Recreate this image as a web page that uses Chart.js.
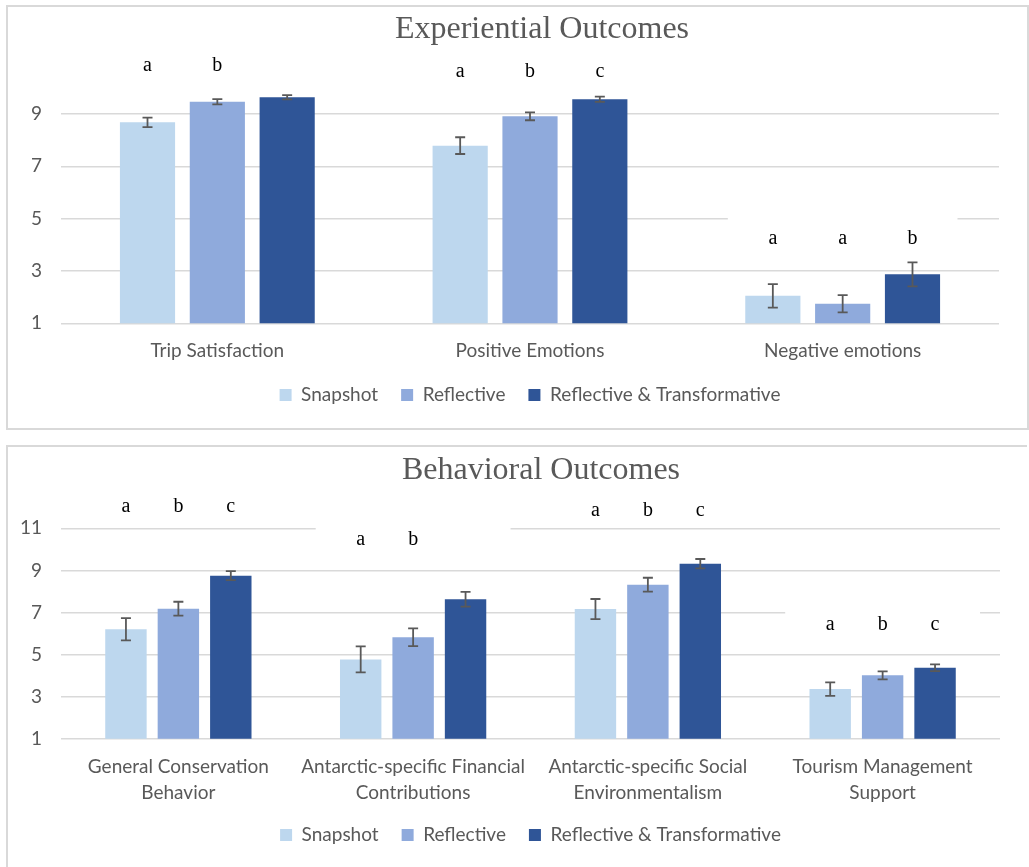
<!DOCTYPE html>
<html>
<head>
<meta charset="utf-8">
<script src="https://cdn.jsdelivr.net/npm/chart.js@4"></script>
<style>
  html, body { margin: 0; padding: 0; background: #fff; width: 1029px; height: 867px; overflow: hidden; }
  .panel { position: absolute; left: 6px; width: 1019px; height: 421px; border: 2px solid #D9D9D9; background: #fff; overflow: hidden; }
  #panelExp { top: 5px; }
  #panelBeh { top: 445px; border-right: none; border-bottom: none; }
  canvas { display: block; }
</style>
</head>
<body>
<div class="panel" id="panelExp"><canvas id="chartExp" width="1070" height="421"></canvas></div>
<div class="panel" id="panelBeh"><canvas id="chartBeh" width="1070" height="421"></canvas></div>
<script>
// ---- series shared by both panels ----
const seriesNames = ['Snapshot', 'Reflective', 'Reflective & Transformative'];
const seriesColors = ['#BDD7EE', '#8FAADC', '#2F5597'];

// ---- Experiential outcomes ----
const expCategories = ['Trip Satisfaction', 'Positive Emotions', 'Negative emotions'];
const expSnapshot = [8.68, 7.79, 2.05];
const expReflective = [9.47, 8.91, 1.75];
const expTransform = [9.64, 9.56, 2.87];
const expSnapshotErr = [0.18, 0.32, 0.45];
const expReflectiveErr = [0.10, 0.15, 0.33];
const expTransformErr = [0.08, 0.10, 0.46];
const expSnapshotLetters = ['a', 'a', 'a'];
const expReflectiveLetters = ['b', 'b', 'a'];
const expTransformLetters = ['', 'c', 'b'];
const expLetterLevel = [10.91, 10.68, 4.30];
const expTicks = [1, 3, 5, 7, 9];

// ---- Behavioral outcomes ----
const behCategories = [
  ['General Conservation', 'Behavior'],
  ['Antarctic-specific Financial', 'Contributions'],
  ['Antarctic-specific Social', 'Environmentalism'],
  ['Tourism Management', 'Support']
];
const behSnapshot = [6.20, 4.77, 7.16, 3.36];
const behReflective = [7.18, 5.82, 8.32, 4.01];
const behTransform = [8.75, 7.63, 9.32, 4.37];
const behSnapshotErr = [0.53, 0.62, 0.48, 0.32];
const behReflectiveErr = [0.33, 0.42, 0.33, 0.19];
const behTransformErr = [0.21, 0.35, 0.22, 0.16];
const behSnapshotLetters = ['a', 'a', 'a', 'a'];
const behReflectiveLetters = ['b', 'b', 'b', 'b'];
const behTransformLetters = ['c', '', 'c', 'c'];
const behLetterLevel = [12.11, 10.55, 11.95, 6.51];
const behTicks = [1, 3, 5, 7, 9, 11];

const GRAY = '#595959';
const SANS = 'Lato';
const SANS_SIZE = 19;

// whiskers of +/- error around each bar
const errorBars = {
  id: 'errorBars',
  afterDatasetsDraw(chart) {
    const { ctx } = chart;
    const y = chart.scales.y;
    ctx.save();
    ctx.strokeStyle = GRAY;
    ctx.lineWidth = 1.8;
    chart.data.datasets.forEach((ds, i) => {
      chart.getDatasetMeta(i).data.forEach((bar, j) => {
        const v = ds.data[j], e = ds.errors[j];
        const yTop = y.getPixelForValue(v + e);
        const yBot = y.getPixelForValue(v - e);
        const x = bar.x, h = 5;
        ctx.beginPath();
        ctx.moveTo(x, yTop); ctx.lineTo(x, yBot);
        ctx.moveTo(x - h, yTop); ctx.lineTo(x + h, yTop);
        ctx.moveTo(x - h, yBot); ctx.lineTo(x + h, yBot);
        ctx.stroke();
      });
    });
    ctx.restore();
  }
};

// significance letters above each group, set in white text boxes
const groupLetters = {
  id: 'groupLetters',
  beforeDatasetsDraw(chart, args, opts) {
    const { ctx } = chart;
    const y = chart.scales.y;
    const last = chart.data.datasets.length - 1;
    ctx.save();
    ctx.fillStyle = '#ffffff';
    chart.data.labels.forEach((_, j) => {
      const x0 = chart.getDatasetMeta(0).data[j].x;
      const x1 = chart.getDatasetMeta(last).data[j].x;
      const cy = y.getPixelForValue(opts.levels[j]);
      ctx.fillRect(x0 - 45, cy - 21, x1 - x0 + 90, 33);
    });
    ctx.restore();
  },
  afterDraw(chart, args, opts) {
    const { ctx } = chart;
    const y = chart.scales.y;
    ctx.save();
    ctx.fillStyle = '#000000';
    ctx.font = '20px "Liberation Serif"';
    ctx.textAlign = 'center';
    ctx.textBaseline = 'middle';
    chart.data.datasets.forEach((ds, i) => {
      chart.getDatasetMeta(i).data.forEach((bar, j) => {
        const t = ds.letters[j];
        if (t) ctx.fillText(t, bar.x, y.getPixelForValue(opts.levels[j]) + 2);
      });
    });
    ctx.restore();
  }
};

function buildChart(canvasId, cfg) {
  const datasets = seriesNames.map((name, i) => ({
    label: name,
    data: cfg.values[i],
    errors: cfg.errors[i],
    letters: cfg.letters[i],
    backgroundColor: seriesColors[i],
    borderWidth: 0,
    yAxisID: 'y',
    categoryPercentage: 0.67,
    barPercentage: 0.79
  }));
  return new Chart(document.getElementById(canvasId), {
    type: 'bar',
    data: { labels: cfg.categories, datasets },
    plugins: [errorBars, groupLetters],
    options: {
      responsive: false,
      animation: false,
      layout: { padding: { left: 10, right: cfg.padRight, top: 0, bottom: 13.5 } },
      plugins: {
        title: {
          display: true,
          text: cfg.title,
          color: GRAY,
          font: { family: 'Liberation Serif', size: 32, weight: 'normal', lineHeight: 1.2 },
          padding: { top: cfg.titleTop, bottom: cfg.titleBottom }
        },
        legend: {
          position: 'bottom',
          fullSize: false,
          labels: {
            boxWidth: 12,
            boxHeight: 12,
            padding: 23,
            color: GRAY,
            font: { family: SANS, size: SANS_SIZE }
          }
        },
        tooltip: { enabled: false },
        groupLetters: { levels: cfg.levels }
      },
      scales: {
        x: {
          grid: { display: false, drawTicks: false },
          border: { display: false },
          ticks: {
            color: GRAY,
            font: { family: SANS, size: SANS_SIZE, lineHeight: 1.37 },
            padding: cfg.xPad,
            autoSkip: false,
            maxRotation: 0,
            minRotation: 0
          },
          afterFit: s => { s.height = cfg.xAxisHeight; }
        },
        y: {
          min: 1,
          max: cfg.yMax,
          afterBuildTicks: s => { s.ticks = cfg.ticks.map(v => ({ value: v })); },
          afterFit: s => { s.width = 43; },
          grid: { color: '#D9D9D9', lineWidth: 1.5, drawTicks: false },
          border: { display: false },
          ticks: { color: GRAY, font: { family: SANS, size: SANS_SIZE }, padding: 19 }
        },
        rightSpace: {
          type: 'linear',
          position: 'right',
          grid: { display: false, drawTicks: false },
          border: { display: false },
          ticks: { display: false },
          afterFit: s => { s.width = cfg.rightSpace; }
        }
      }
    }
  });
}

buildChart('chartExp', {
  title: 'Experiential Outcomes',
  categories: expCategories,
  values: [expSnapshot, expReflective, expTransform],
  errors: [expSnapshotErr, expReflectiveErr, expTransformErr],
  letters: [expSnapshotLetters, expReflectiveLetters, expTransformLetters],
  levels: expLetterLevel,
  ticks: expTicks,
  yMax: 10,
  padRight: 12,
  rightSpace: 67,
  titleTop: 3.8,
  titleBottom: 38.6,
  xAxisHeight: 39.2,
  xPad: 15
});

buildChart('chartBeh', {
  title: 'Behavioral Outcomes',
  categories: behCategories,
  values: [behSnapshot, behReflective, behTransform],
  errors: [behSnapshotErr, behReflectiveErr, behTransformErr],
  letters: [behSnapshotLetters, behReflectiveLetters, behTransformLetters],
  levels: behLetterLevel,
  ticks: behTicks,
  yMax: 11,
  padRight: 14,
  rightSpace: 64,
  titleTop: 4.8,
  titleBottom: 38.1,
  xAxisHeight: 63.8,
  xPad: 15
});
</script>
</body>
</html>
